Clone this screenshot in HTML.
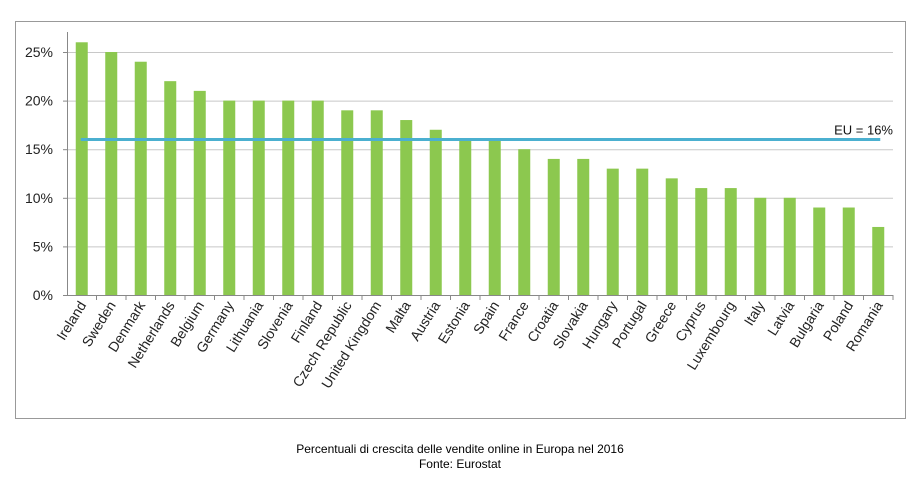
<!DOCTYPE html>
<html><head><meta charset="utf-8">
<style>
body{margin:0;background:#fff;width:919px;height:492px;overflow:hidden;font-family:"Liberation Sans",Arial,sans-serif;}
</style></head>
<body>
<svg id="chart" width="919" height="492" xmlns="http://www.w3.org/2000/svg">
<rect x="15.5" y="21.5" width="890" height="397" fill="#fff" stroke="#999" stroke-width="1"/>
<g id="grid"></g><g id="bars"></g><g id="xlabels"></g>
<text x="460" y="453" font-size="12" text-anchor="middle" fill="#000">Percentuali di crescita delle vendite online in Europa nel 2016</text>
<text x="460" y="468" font-size="12" text-anchor="middle" fill="#000">Fonte: Eurostat</text>
</svg>
<script>
const categories=["Ireland","Sweden","Denmark","Netherlands","Belgium","Germany","Lithuania","Slovenia","Finland","Czech Republic","United Kingdom","Malta","Austria","Estonia","Spain","France","Croatia","Slovakia","Hungary","Portugal","Greece","Cyprus","Luxembourg","Italy","Latvia","Bulgaria","Poland","Romania"];
const values=[26,25,24,22,21,20,20,20,20,19,19,18,17,16,16,15,14,14,13,13,12,11,11,10,10,9,9,7];
const yTicks=[0,5,10,15,20,25];
const tickLabels=["0%","5%","10%","15%","20%","25%"];
const euValue=16;
const euLabel="EU = 16%";
const NS="http://www.w3.org/2000/svg";
const x0=67,x1=893,yBase=295,pxPer=9.72;
const step=(x1-x0)/categories.length;
const y=v=>yBase-v*pxPer;
const xc=i=>x0+step*(i+0.5);
function mk(t,a,p){const e=document.createElementNS(NS,t);for(const k in a)e.setAttribute(k,a[k]);p.appendChild(e);return e;}
const grid=document.getElementById('grid'),bars=document.getElementById('bars'),xl=document.getElementById('xlabels');
yTicks.forEach((v,i)=>{
 if(v>0){const g=mk('line',{x1:x0,x2:x1,y1:y(v)+.5,y2:y(v)+.5,stroke:'#c8c8c8','stroke-width':1},grid);
 
 }
 const tk=mk('line',{x1:x0-4,x2:x0,y1:y(v)+.5,y2:y(v)+.5,stroke:'#888'},grid);
 
 
 const t=mk('text',{x:x0-14,y:y(v)+5,'font-size':14,'text-anchor':'end',fill:'#222'},grid);
 t.textContent=tickLabels[i];
 
 
});
const ya=mk('line',{x1:x0+.5,x2:x0+.5,y1:32,y2:yBase,stroke:'#888'},grid);


const xa=mk('line',{x1:x0,x2:x1,y1:yBase+.5,y2:yBase+.5,stroke:'#888'},grid);


categories.forEach((c,i)=>{
 const b=mk('rect',{x:xc(i)-6,y:y(values[i]),width:12,height:yBase-y(values[i]),fill:'#8cc84f'},bars);
 
 
 const tk=mk('line',{x1:x0+step*(i+1),x2:x0+step*(i+1),y1:yBase,y2:yBase+5,stroke:'#888'},grid);
 
 
 const t=mk('text',{transform:`translate(${xc(i)+5},${yBase+10}) rotate(-58)`,'font-size':14,'text-anchor':'end',fill:'#222'},xl);
 t.textContent=c;
 
 
});
const eu=mk('line',{x1:xc(0)-1,x2:xc(categories.length-1)+2,y1:y(euValue),y2:y(euValue),stroke:'#4bb0d0','stroke-width':3},bars);


const el=mk('text',{x:x1,y:y(euValue)-5,'font-size':13,'text-anchor':'end',fill:'#111'},bars);
el.textContent=euLabel;


</script>
</body></html>
